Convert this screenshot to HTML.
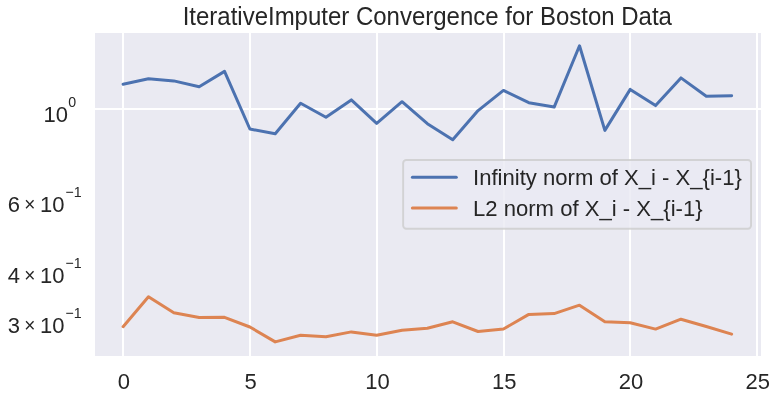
<!DOCTYPE html>
<html><head><meta charset="utf-8"><title>IterativeImputer Convergence</title>
<style>
html,body{margin:0;padding:0;background:#fff;}
svg{display:block;will-change:transform;font-family:"Liberation Sans",Arial,sans-serif;fill:#262626;}
</style></head><body>
<svg width="781" height="400" viewBox="0 0 781 400">
<rect x="0" y="0" width="781" height="400" fill="#ffffff"/>
<rect x="95" y="33" width="666" height="323" fill="#eaeaf2"/>
<g fill="#ffffff" shape-rendering="crispEdges"><rect x="122" y="33" width="2" height="323"/><rect x="249" y="33" width="2" height="323"/><rect x="376" y="33" width="2" height="323"/><rect x="503" y="33" width="2" height="323"/><rect x="629" y="33" width="2" height="323"/><rect x="756" y="33" width="2" height="323"/><rect x="95" y="108" width="666" height="2"/></g>
<polyline points="123.10,84.20 148.46,78.70 173.81,80.90 199.17,86.70 224.52,71.40 249.88,129.00 275.24,133.80 300.59,103.30 325.95,117.20 351.30,99.90 376.66,123.40 402.02,101.70 427.37,123.70 452.73,139.80 478.08,110.60 503.44,90.40 528.80,102.70 554.15,107.10 579.51,45.80 604.86,130.40 630.22,89.40 655.58,105.60 680.93,77.90 706.29,96.30 731.64,95.70" fill="none" stroke="#4c72b0" stroke-width="3" stroke-linejoin="round" stroke-linecap="round"/>
<polyline points="123.10,326.70 148.46,296.80 173.81,312.80 199.17,317.50 224.52,317.30 249.88,327.00 275.24,341.90 300.59,335.30 325.95,336.70 351.30,331.90 376.66,335.30 402.02,330.20 427.37,328.30 452.73,321.80 478.08,331.50 503.44,329.00 528.80,314.40 554.15,313.60 579.51,305.20 604.86,321.70 630.22,322.80 655.58,329.10 680.93,319.20 706.29,326.50 731.64,334.10" fill="none" stroke="#dd8452" stroke-width="3" stroke-linejoin="round" stroke-linecap="round"/>
<text transform="translate(427.30,24.80) scale(1,1.04)" text-anchor="middle" font-size="24">IterativeImputer Convergence for Boston Data</text>
<g font-size="22"><text transform="translate(123.90,388.90) scale(1,1.04)" text-anchor="middle">0</text><text transform="translate(250.68,388.90) scale(1,1.04)" text-anchor="middle">5</text><text transform="translate(377.46,388.90) scale(1,1.04)" text-anchor="middle">10</text><text transform="translate(504.24,388.90) scale(1,1.04)" text-anchor="middle">15</text><text transform="translate(631.02,388.90) scale(1,1.04)" text-anchor="middle">20</text><text transform="translate(757.80,388.90) scale(1,1.04)" text-anchor="middle">25</text></g>
<g font-size="22">
<text transform="translate(68.00,121.60) scale(1,1.04)" text-anchor="end">10</text><text transform="translate(68.30,107.30) scale(1,1.04)" font-size="14.2">0</text>
<text transform="translate(7.70,211.70) scale(1,1.04)">6<tspan dx="4.4" dy="-0.9" font-size="19">×</tspan><tspan dx="4.65" dy="0.9">10</tspan><tspan font-size="14.2" dx="0.9" dy="-14.42">−1</tspan></text>
<text transform="translate(7.70,282.70) scale(1,1.04)">4<tspan dx="4.4" dy="-0.9" font-size="19">×</tspan><tspan dx="4.65" dy="0.9">10</tspan><tspan font-size="14.2" dx="0.9" dy="-14.42">−1</tspan></text>
<text transform="translate(7.70,332.70) scale(1,1.04)">3<tspan dx="4.4" dy="-0.9" font-size="19">×</tspan><tspan dx="4.65" dy="0.9">10</tspan><tspan font-size="14.2" dx="0.9" dy="-14.42">−1</tspan></text>
</g>
<rect x="403.15" y="160" width="347.9" height="68.75" rx="3.2" ry="3.2" fill="#eaeaf2" fill-opacity="0.8" stroke="#cccccc" stroke-opacity="0.8" stroke-width="1.9"/>
<line x1="412.4" y1="177.3" x2="456.3" y2="177.3" stroke="#4c72b0" stroke-width="3" stroke-linecap="round"/>
<line x1="412.4" y1="208" x2="456.3" y2="208" stroke="#dd8452" stroke-width="3" stroke-linecap="round"/>
<g font-size="22.1">
<text transform="translate(473.00,185.30) scale(1,1.04)">Infinity norm of X_i - X_{i-1}</text>
<text transform="translate(473.00,216.00) scale(1,1.04)">L2 norm of X_i - X_{i-1}</text>
</g>
</svg>
</body></html>
